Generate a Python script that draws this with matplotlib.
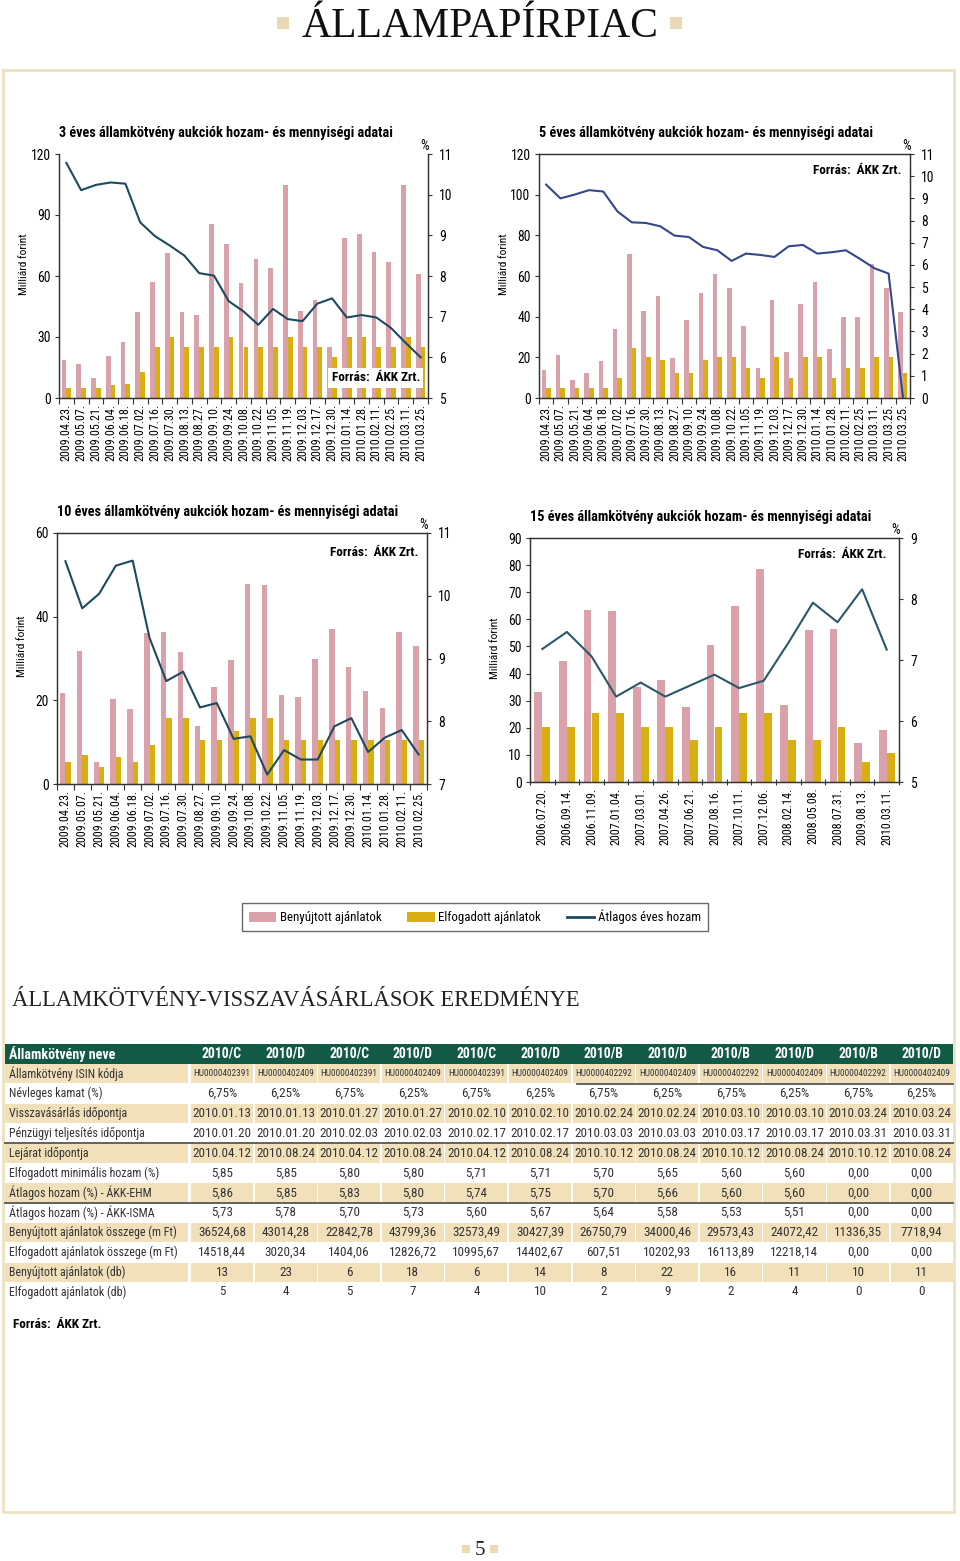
import numpy as np
import matplotlib
matplotlib.use("Agg")
import matplotlib.pyplot as plt
from matplotlib import font_manager
from matplotlib.patches import Rectangle, Patch
from matplotlib.lines import Line2D

# ─── Fonts ───────────────────────────────────────────
_names = {f.name for f in font_manager.fontManager.ttflist}
_narrow = [n for n in ("Liberation Sans Narrow", "Roboto Condensed", "Open Sans Condensed",
                       "Noto Sans Condensed", "Arial Narrow") if n in _names]
SANS = _narrow[0] if _narrow else "Liberation Sans"
K = 1.15 if _narrow else 1.0          # condensed faces can run a bit larger
SERIF = "Liberation Serif"
plt.rcParams["font.family"] = [SANS, "DejaVu Sans"]

PINK = "#dba1aa"
GOLD = "#d8ae12"
BEIGE = "#f2e0ba"
FRAME = "#ece2c0"
GREEN = "#125a46"

# ─── 3 éves ──────────────────────────────────────────
dates_3y = ["2009.04.23", "2009.05.07", "2009.05.21", "2009.06.04", "2009.06.18",
            "2009.07.02", "2009.07.16", "2009.07.30", "2009.08.13", "2009.08.27",
            "2009.09.10", "2009.09.24", "2009.10.08", "2009.10.22", "2009.11.05",
            "2009.11.19", "2009.12.03", "2009.12.17", "2009.12.30", "2010.01.14",
            "2010.01.28", "2010.02.11", "2010.02.25", "2010.03.11", "2010.03.25"]
submitted_3y = [18.5, 16.7, 9.8, 20.8, 27.7, 42.1, 57.0, 71.3, 42.1, 41.0,
                85.7, 75.9, 56.6, 68.5, 63.9, 104.9, 42.6, 48.4, 25.2, 78.9,
                80.7, 72.0, 66.7, 104.9, 61.0]
accepted_3y = [5, 5, 5, 6.5, 7, 13, 25, 30, 25, 25,
               25, 30, 25, 25, 25, 30, 25, 25, 20, 30,
               30, 25, 25, 30, 25]
yield_3y = [10.78, 10.11, 10.24, 10.30, 10.27, 9.32, 8.98, 8.75, 8.50, 8.07,
            8.01, 7.38, 7.13, 6.80, 7.19, 6.94, 6.89, 7.32, 7.45, 6.98,
            7.04, 6.98, 6.72, 6.35, 6.00]

# ─── 5 éves ──────────────────────────────────────────
dates_5y = dates_3y + ["2010.03.25"]
submitted_5y = [13.9, 21.1, 9.0, 12.3, 18.4, 33.9, 70.7, 42.6, 50.3, 19.5,
                38.5, 51.5, 60.8, 54.1, 35.4, 14.6, 48.2, 22.8, 46.4, 56.9,
                23.9, 39.8, 39.8, 65.7, 54.3, 42.1]
accepted_5y = [5, 5, 5, 5, 5, 9.7, 24.6, 20, 18.5, 12.3,
               12.3, 18.5, 20, 20, 15, 10, 20, 10, 20, 20,
               10, 15, 15, 20, 20, 12.5]
yield_5y = [9.62, 9.00, 9.17, 9.37, 9.31, 8.41, 7.92, 7.89, 7.74, 7.32,
            7.26, 6.81, 6.66, 6.18, 6.51, 6.45, 6.36, 6.84, 6.90, 6.51,
            6.57, 6.66, 6.27, 5.85, 5.61, 0.05]

# ─── 10 éves ─────────────────────────────────────────
dates_10y = ["2009.04.23", "2009.05.07", "2009.05.21", "2009.06.04", "2009.06.18",
             "2009.07.02", "2009.07.16", "2009.07.30", "2009.08.27", "2009.09.10",
             "2009.09.24", "2009.10.08", "2009.10.22", "2009.11.05", "2009.11.19",
             "2009.12.03", "2009.12.17", "2009.12.30", "2010.01.14", "2010.01.28",
             "2010.02.11", "2010.02.25"]
submitted_10y = [21.8, 31.9, 5.3, 20.3, 17.9, 36.1, 36.4, 31.6, 13.8, 23.3,
                 29.6, 47.9, 47.5, 21.2, 20.9, 29.9, 37.0, 28.0, 22.3, 18.2,
                 36.3, 32.9]
accepted_10y = [5.3, 7, 4, 6.5, 5.3, 9.4, 15.7, 15.7, 10.6, 10.6,
                12.7, 15.7, 15.7, 10.6, 10.6, 10.6, 10.6, 10.6, 10.6, 10.6,
                10.6, 10.6]
yield_10y = [10.55, 9.80, 10.03, 10.48, 10.56, 9.33, 8.64, 8.79, 8.22, 8.29,
             7.72, 7.76, 7.15, 7.54, 7.39, 7.39, 7.92, 8.05, 7.51, 7.74,
             7.86, 7.47]

# ─── 15 éves ─────────────────────────────────────────
dates_15y = ["2006.07.20", "2006.09.14", "2006.11.09", "2007.01.04", "2007.03.01",
             "2007.04.26", "2007.06.21", "2007.08.16", "2007.10.11", "2007.12.06",
             "2008.02.14", "2008.05.08", "2008.07.31", "2009.08.13", "2010.03.11"]
submitted_15y = [33.2, 44.6, 63.4, 62.9, 35.2, 37.7, 27.8, 50.5, 64.9, 78.7,
                 28.3, 56.0, 56.5, 14.5, 19.0]
accepted_15y = [20.4, 20.4, 25.4, 25.4, 20.4, 20.4, 15.5, 20.4, 25.4, 25.4,
                15.5, 15.5, 20.4, 7.5, 10.6]
yield_15y = [7.18, 7.46, 7.06, 6.40, 6.63, 6.40, 6.58, 6.76, 6.54, 6.66,
             7.28, 7.94, 7.62, 8.16, 7.17]

# ─── Visszavásárlási táblázat ───────────────────────
row_labels = ["Államkötvény ISIN kódja", "Névleges kamat (%)", "Visszavásárlás időpontja",
              "Pénzügyi teljesítés időpontja", "Lejárat időpontja",
              "Elfogadott minimális hozam (%)", "Átlagos hozam (%) - ÁKK-EHM",
              "Átlagos hozam (%) - ÁKK-ISMA", "Benyújtott ajánlatok összege (m Ft)",
              "Elfogadott ajánlatok összege (m Ft)", "Benyújtott ajánlatok (db)",
              "Elfogadott ajánlatok (db)"]
bond_names = ["2010/C", "2010/D", "2010/C", "2010/D", "2010/C", "2010/D",
              "2010/B", "2010/D", "2010/B", "2010/D", "2010/B", "2010/D"]
isin_codes = ["HU0000402391", "HU0000402409"] * 3 + ["HU0000402292", "HU0000402409"] * 3
coupon = ["6,75%", "6,25%"] * 6
buyback_date = ["2010.01.13", "2010.01.13", "2010.01.27", "2010.01.27", "2010.02.10", "2010.02.10",
                "2010.02.24", "2010.02.24", "2010.03.10", "2010.03.10", "2010.03.24", "2010.03.24"]
settle_date = ["2010.01.20", "2010.01.20", "2010.02.03", "2010.02.03", "2010.02.17", "2010.02.17",
               "2010.03.03", "2010.03.03", "2010.03.17", "2010.03.17", "2010.03.31", "2010.03.31"]
maturity = ["2010.04.12", "2010.08.24", "2010.04.12", "2010.08.24", "2010.04.12", "2010.08.24",
            "2010.10.12", "2010.08.24", "2010.10.12", "2010.08.24", "2010.10.12", "2010.08.24"]
min_yield = ["5,85", "5,85", "5,80", "5,80", "5,71", "5,71", "5,70", "5,65", "5,60", "5,60", "0,00", "0,00"]
avg_yield_ehm = ["5,86", "5,85", "5,83", "5,80", "5,74", "5,75", "5,70", "5,66", "5,60", "5,60", "0,00", "0,00"]
avg_yield_isma = ["5,73", "5,78", "5,70", "5,73", "5,60", "5,67", "5,64", "5,58", "5,53", "5,51", "0,00", "0,00"]
submitted_amt = ["36524,68", "43014,28", "22842,78", "43799,36", "32573,49", "30427,39",
                 "26750,79", "34000,46", "29573,43", "24072,42", "11336,35", "7718,94"]
accepted_amt = ["14518,44", "3020,34", "1404,06", "12826,72", "10995,67", "14402,67",
                "607,51", "10202,93", "16113,89", "12218,14", "0,00", "0,00"]
submitted_cnt = ["13", "23", "6", "18", "6", "14", "8", "22", "16", "11", "10", "11"]
accepted_cnt = ["5", "4", "5", "7", "4", "10", "2", "9", "2", "4", "0", "0"]
table_rows = [isin_codes, coupon, buyback_date, settle_date, maturity, min_yield,
              avg_yield_ehm, avg_yield_isma, submitted_amt, accepted_amt,
              submitted_cnt, accepted_cnt]

W, H = 960, 1561


def rect(x0, y0, x1, y1):
    return [x0 / W, 1 - y1 / H, (x1 - x0) / W, (y1 - y0) / H]


fig = plt.figure(figsize=(W / 100, H / 100), dpi=100)
fig.patch.set_facecolor("white")

page = fig.add_axes([0, 0, 1, 1])
page.set_xlim(0, W)
page.set_ylim(H, 0)
page.axis("off")

# page frame, titles
page.add_patch(Rectangle((3, 70), 951, 1442, fill=False, edgecolor=FRAME, lw=2))
page.text(480, 37, "ÁLLAMPAPÍRPIAC", family=SERIF, fontsize=30, ha="center", va="baseline", color="#111111")
for sx in (283, 676):
    page.add_patch(Rectangle((sx - 6, 17), 12, 12, color="#ead9b4", lw=0))
page.text(12, 1006, "ÁLLAMKÖTVÉNY-VISSZAVÁSÁRLÁSOK EREDMÉNYE", family=SERIF, fontsize=16.3,
          ha="left", va="baseline", color="#222222")
page.text(480, 1555, "5", family=SERIF, fontsize=15, ha="center", va="baseline", color="#222222")
for sx in (466, 494):
    page.add_patch(Rectangle((sx - 4, 1545), 8, 8, color="#ead9b4", lw=0))


def draw_chart(box, title, dates, submitted, accepted, yields, left_ticks, right_ticks,
               src_xy, line_color, top_spine=True, tick_dir="out"):
    ax = fig.add_axes(rect(*box))
    ax.patch.set_alpha(0)
    n = len(dates)
    x = np.arange(n)
    ax.bar(x - 0.16, submitted, 0.32, color=PINK, zorder=2)
    ax.bar(x + 0.16, accepted, 0.32, color=GOLD, zorder=2)
    ax.set_xlim(-0.5, n - 0.5)
    ax.set_ylim(left_ticks[0], left_ticks[-1])
    ax.set_yticks(left_ticks)
    ax.set_xticks(np.arange(n + 1) - 0.5)
    ax.set_xticklabels([])
    ax.set_xticks(x, minor=True)
    ax.set_xticklabels([d + "." for d in dates], minor=True, rotation=90)
    ax.tick_params(axis="x", which="minor", length=0, pad=4, labelsize=7.5 * K)
    ax.tick_params(axis="x", which="major", length=4, direction=tick_dir, color="#333333")
    ax.tick_params(axis="y", length=3, labelsize=8.5 * K, pad=3, color="#333333")
    ax.set_ylabel("Milliárd forint", fontsize=7.2 * K)
    ax.yaxis.set_label_coords(-0.082, 0.55)

    ax2 = ax.twinx()
    ax2.plot(x, yields, color=line_color, lw=1.5, zorder=3)
    ax2.set_ylim(right_ticks[0], right_ticks[-1])
    ax2.set_yticks(right_ticks)
    ax2.tick_params(axis="y", length=3, labelsize=8.5 * K, pad=5, color="#333333")

    for a in (ax, ax2):
        for sp in a.spines.values():
            sp.set_color("#333333")
            sp.set_linewidth(0.9)
        a.spines["top"].set_visible(top_spine)

    ax.text(0.0, 1.085, title, transform=ax.transAxes, fontsize=8.9 * K, fontweight="bold",
            ha="left", va="center")
    ax2.text(0.99, 1.033, "%", transform=ax.transAxes, fontsize=8.5 * K, ha="center", va="center")
    ax2.text(src_xy[0], src_xy[1], "Forrás:  ÁKK Zrt.", transform=ax.transAxes, fontsize=8.3 * K,
             fontweight="bold", ha="right", va="center", zorder=5,
             bbox=dict(facecolor="white", edgecolor="none", pad=2.5))
    return ax, ax2


draw_chart((59, 154, 428, 398), "3 éves államkötvény aukciók hozam- és mennyiségi adatai",
           dates_3y, submitted_3y, accepted_3y, yield_3y,
           [0, 30, 60, 90, 120], list(range(5, 12)), (0.978, 0.082), "#1c4a60", top_spine=False)
draw_chart((539, 154, 910, 398), "5 éves államkötvény aukciók hozam- és mennyiségi adatai",
           dates_5y, submitted_5y, accepted_5y, yield_5y,
           list(range(0, 121, 20)), list(range(0, 12)), (0.976, 0.934), "#35478a")
draw_chart((57, 533, 427, 784), "10 éves államkötvény aukciók hozam- és mennyiségi adatai",
           dates_10y, submitted_10y, accepted_10y, yield_10y,
           [0, 20, 40, 60], list(range(7, 12)), (0.976, 0.924), "#1d4a5e")
draw_chart((530, 538, 899, 782), "15 éves államkötvény aukciók hozam- és mennyiségi adatai",
           dates_15y, submitted_15y, accepted_15y, yield_15y,
           list(range(0, 91, 10)), list(range(5, 10)), (0.967, 0.934), "#2a5868", tick_dir="inout")

# ─── Legend ──────────────────────────────────────────
handles = [Patch(facecolor=PINK), Patch(facecolor=GOLD), Line2D([], [], color="#1c4a60", lw=2)]
leg = fig.legend(handles, ["Benyújtott ajánlatok", "Elfogadott ajánlatok", "Átlagos éves hozam"],
                 loc="center", ncol=3, bbox_to_anchor=(475 / W, 1 - 917 / H),
                 fontsize=8.1 * K, frameon=True, fancybox=False, edgecolor="#444444",
                 handlelength=2.1, handleheight=0.8, handletextpad=0.3, columnspacing=2.0,
                 borderpad=0.5, borderaxespad=0)
leg.get_frame().set_linewidth(1.0)

# ─── Table ───────────────────────────────────────────
row_h = 19.83
y0 = 1054
col_w = 63.6
col_c = [222 + col_w * j for j in range(len(bond_names))]

page.add_patch(Rectangle((5, y0 - row_h / 2), 948, row_h, color=GREEN, lw=0))
page.text(9, y0, "Államkötvény neve", color="white", fontweight="bold", fontsize=8.8 * K,
          ha="left", va="center")
for c, name in zip(col_c, bond_names):
    page.text(c, y0, name, color="white", fontweight="bold", fontsize=8.6 * K, ha="center", va="center")

for i, (label, values) in enumerate(zip(row_labels, table_rows), start=1):
    yc = y0 + row_h * i
    if i % 2 == 1:
        page.add_patch(Rectangle((5, yc - row_h / 2 + 0.5), 183, row_h - 1, color=BEIGE, lw=0))
        for c in col_c:
            page.add_patch(Rectangle((c - col_w / 2 + 0.7, yc - row_h / 2 + 0.5), col_w - 1.4,
                                     row_h - 1, color=BEIGE, lw=0))
    page.text(9, yc, label, fontsize=7.5 * K, color="#333333", ha="left", va="center")
    fs = 5.8 if i == 1 else 8.2
    for c, v in zip(col_c, values):
        page.text(c, yc, v, fontsize=fs * K, color="#333333", ha="center", va="center")

for ys, xs in ((y0 + row_h * 1.5, 577), (y0 + row_h * 4.5, 5), (y0 + row_h * 7.5, 5)):
    page.plot([xs, 953], [ys, ys], color="#555555", lw=1.3)

page.text(13, 1325, "Forrás:  ÁKK Zrt.", fontsize=8.3 * K, fontweight="bold", ha="left", va="center")

fig.savefig("out.png", dpi=100, facecolor="white")
